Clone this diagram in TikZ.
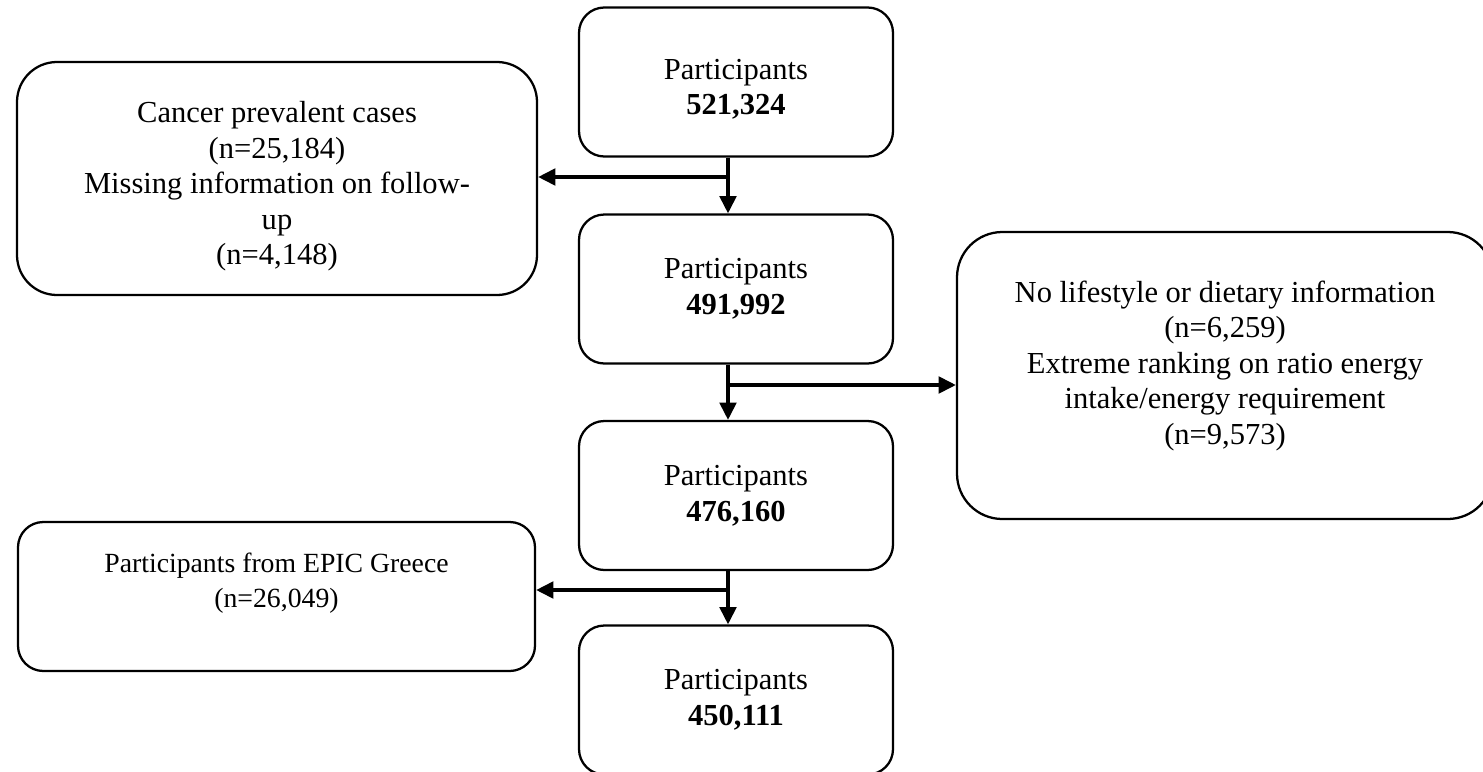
\documentclass[tikz,border=0pt]{standalone}
\usepackage{fontspec}
\setmainfont{Liberation Serif}
\usetikzlibrary{arrows.meta}
\begin{document}
\begin{tikzpicture}[x=0.75pt,y=0.75pt,yscale=-1,xscale=1,
    stepbox/.style={draw, line width=1.7pt, rounded corners=19pt, align=center, inner sep=0pt,
      minimum width=235.5pt, minimum height=111.75pt, font=\fontsize{22.9}{26.7}\selectfont},
    exclbox/.style={draw, line width=1.7pt, align=center, inner sep=0pt, font=\fontsize{22.9}{26.7}\selectfont},
    flow/.style={line width=2.5pt, -{Triangle[length=13pt,width=12.5pt]}}]
    %set diagram size: 1483 x 771
    \clip (0,0) rectangle (1483,771);

    %Rounded Rect: participants
    \node [stepbox] (p1) at (736,82) {\rule{0pt}{26pt}Participants\\\textbf{521,324}};
    \node [stepbox] (p2) at (736,289) {Participants\\\textbf{491,992}};
    \node [stepbox] (p3) at (736,495.5) {Participants\\\textbf{476,160}};
    \node [stepbox] (p4) at (736,700) {Participants\\\textbf{450,111}};

    %Rounded Rect: exclusions
    \node [exclbox, rounded corners=30pt, minimum width=390pt, minimum height=174.75pt] (ex1) at (277,178.5)
      {\rule{0pt}{27.75pt}Cancer prevalent cases\\(n=25,184)\\Missing information on follow-\\up\\(n=4,148)};
    \node [exclbox, rounded corners=34pt, minimum width=402pt, minimum height=215.25pt] (ex2) at (1225,375.5)
      {No lifestyle or dietary information\\(n=6,259)\\Extreme ranking on ratio energy\\intake/energy requirement\\(n=9,573)\rule[-19.5pt]{0pt}{1pt}};
    \node [exclbox, rounded corners=19pt, minimum width=387.75pt, minimum height=111.75pt,
      font=\fontsize{20.8}{26.3}\selectfont] (ex3) at (276.5,596.5)
      {Participants from EPIC Greece\\(n=26,049)\rule[-25pt]{0pt}{1pt}};

    %Straight Lines: main stem and side arrows
    \coordinate (stem) at (728,0);
    \coordinate (j1) at (728,177);
    \coordinate (j2) at (728,385);
    \coordinate (j3) at (728,590);
    \draw [flow] (p1.south -| stem) -- (p2.north -| stem);
    \draw [flow] (p2.south -| stem) -- (p3.north -| stem);
    \draw [flow] (p3.south -| stem) -- (p4.north -| stem);
    \draw [flow] (j1) -- (j1 -| ex1.east);
    \draw [flow] (j2) -- (j2 -| ex2.west);
    \draw [flow] (j3) -- (j3 -| ex3.east);

\end{tikzpicture}
\end{document}
